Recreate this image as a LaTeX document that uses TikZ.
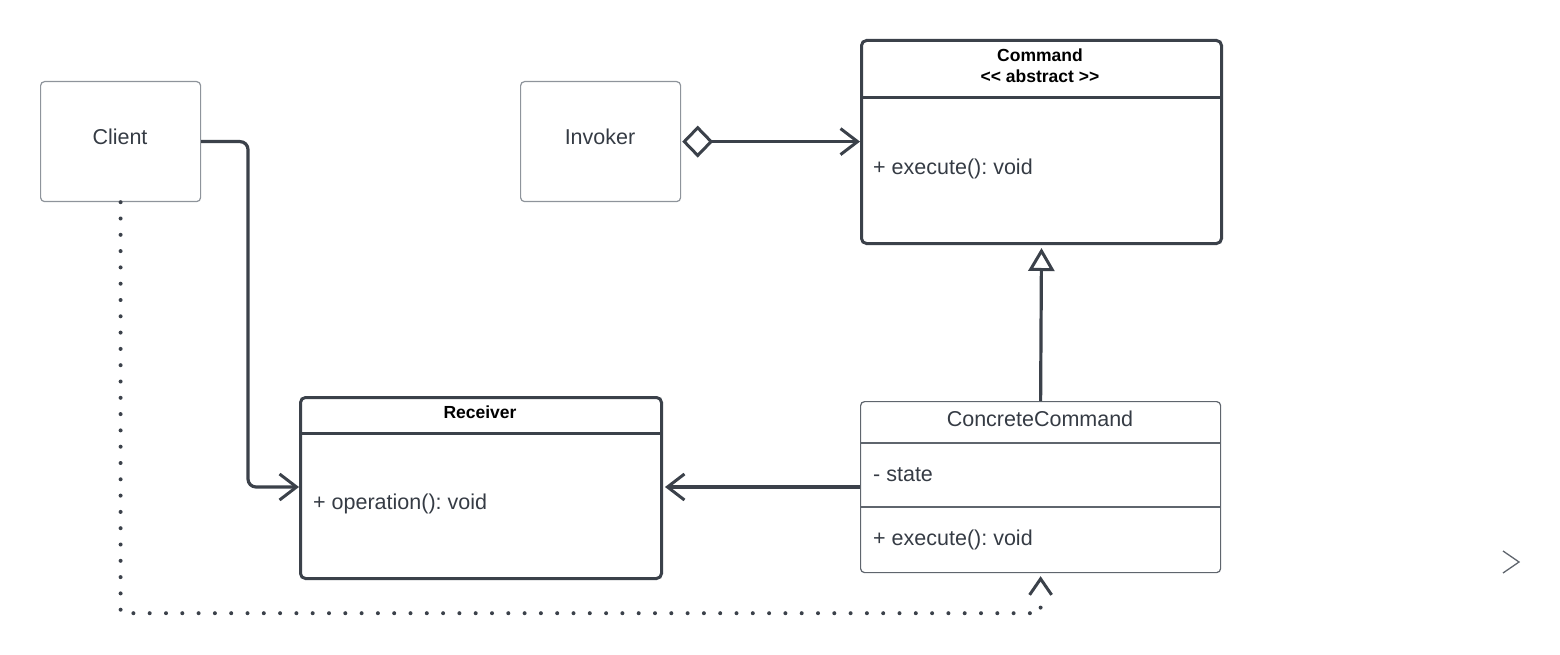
\documentclass[tikz,border=0pt]{standalone}
\usepackage{fontspec}
\setmainfont{Liberation Sans}
\usetikzlibrary{arrows.meta,calc}
\definecolor{ink}{HTML}{3B414A}
\definecolor{txt}{HTML}{353B44}
\definecolor{thin}{HTML}{8E949B}
\definecolor{mid}{HTML}{5F656D}
\frenchspacing
\begin{document}
\begin{tikzpicture}[x=1pt,y=-1pt,
  simplebox/.style={draw=thin,line width=1.2pt,rounded corners=4pt,anchor=north west,
    minimum width=160pt,minimum height=120pt,inner sep=0pt},
  heavybox/.style={draw=ink,line width=3pt,rounded corners=5pt,anchor=north west,inner sep=0pt},
  lightbox/.style={draw=mid,line width=1.2pt,rounded corners=4pt,anchor=north west,inner sep=0pt},
  divheavy/.style={draw=ink,line width=3pt},
  divlight/.style={draw=mid,line width=1.2pt},
  lbl/.style={text=txt,font=\fontsize{21.5}{26}\selectfont,inner sep=0pt},
  member/.style={lbl,anchor=base west},
  title/.style={text=black,font=\fontsize{17.5}{21}\selectfont\bfseries,inner sep=0pt,anchor=base},
  conn/.style={draw=ink,line width=3.2pt},
  openhead/.style={-{Straight Barb[length=17pt,width=26pt,line width=3pt]}},
  dep/.style={draw=ink,line width=4pt,line cap=round,dash pattern=on 0pt off 16.3pt}
]
\useasboundingbox (0,0) rectangle (1560,655);

% plain boxes
\node[simplebox] (client) at (40,81) {};
\node[lbl] (clientlbl) at (120,137) {Client};
\node[simplebox] (invoker) at (520,81) {};
\node[lbl] (invokerlbl) at (600,137) {Invoker};

% Command class
\node[heavybox,minimum width=360pt,minimum height=203pt] (cmd) at (860,39) {};
\draw[divheavy] (cmd.west |- 0,98) -- (cmd.east |- 0,98);
\node[title] (cmdname) at (1040,62) {Command};
\node[title] (cmdstereo) at (1040,83) {<{}< abstract >{}>};
\node[member] (cmdop) at (873,175) {+ execute(): void};

% Receiver class
\node[heavybox,minimum width=361pt,minimum height=181pt] (recv) at (299,396) {};
\draw[divheavy] (recv.west |- 0,433) -- (recv.east |- 0,433);
\node[title] (recvname) at (480,418) {Receiver};
\node[member] (recvop) at (313,509) {+ operation(): void};

% ConcreteCommand class
\node[lightbox,minimum width=360pt,minimum height=171pt] (cc) at (860,401) {};
\draw[divlight] (cc.west |- 0,443) -- (cc.east |- 0,443);
\draw[divlight] (cc.west |- 0,507) -- (cc.east |- 0,507);
\node[lbl,anchor=base] (ccname) at (1040,426) {ConcreteCommand};
\node[member] (ccattr) at (873,481) {- state};
\node[member] (ccop) at (873,545) {+ execute(): void};

% Client -> Receiver
\draw[conn,openhead,rounded corners=8pt]
  (client.east) -| ([xshift=-51pt]recv.west |- 0,487) -- (recv.west |- 0,487);

% Invoker <>-> Command
\draw[conn,{Diamond[open,length=31pt,width=32pt,line width=3pt]}-{Straight Barb[length=17pt,width=26pt,line width=3pt]}]
  ([xshift=1pt]invoker.east) -- (cmd.west |- invoker.east);

% ConcreteCommand -> Receiver
\draw[conn,openhead] (cc.west |- 0,487) -- ([xshift=2pt]recv.east |- 0,487);

% ConcreteCommand --|> Command
\draw[conn,-{Triangle[open,fill=white,length=23pt,width=26pt,line width=3pt]}]
  (cc.north) -- ([yshift=-3pt]cmd.south);

% Client ..> ConcreteCommand
\draw[dep] (client.south) |- ($(cc.south)+(0,40)$) -- ([yshift=-19pt]cc.south);
\coordinate (depend) at ([yshift=-5pt]cc.south);
\draw[conn,-{Straight Barb[length=16pt,width=22pt,line width=3pt]}] (depend) -- ([yshift=-3pt]cc.south);

% side chevron
\draw[draw=mid,line width=1.3pt] (1503,551) -- (1519,562) -- (1503,573);
\end{tikzpicture}
\end{document}
